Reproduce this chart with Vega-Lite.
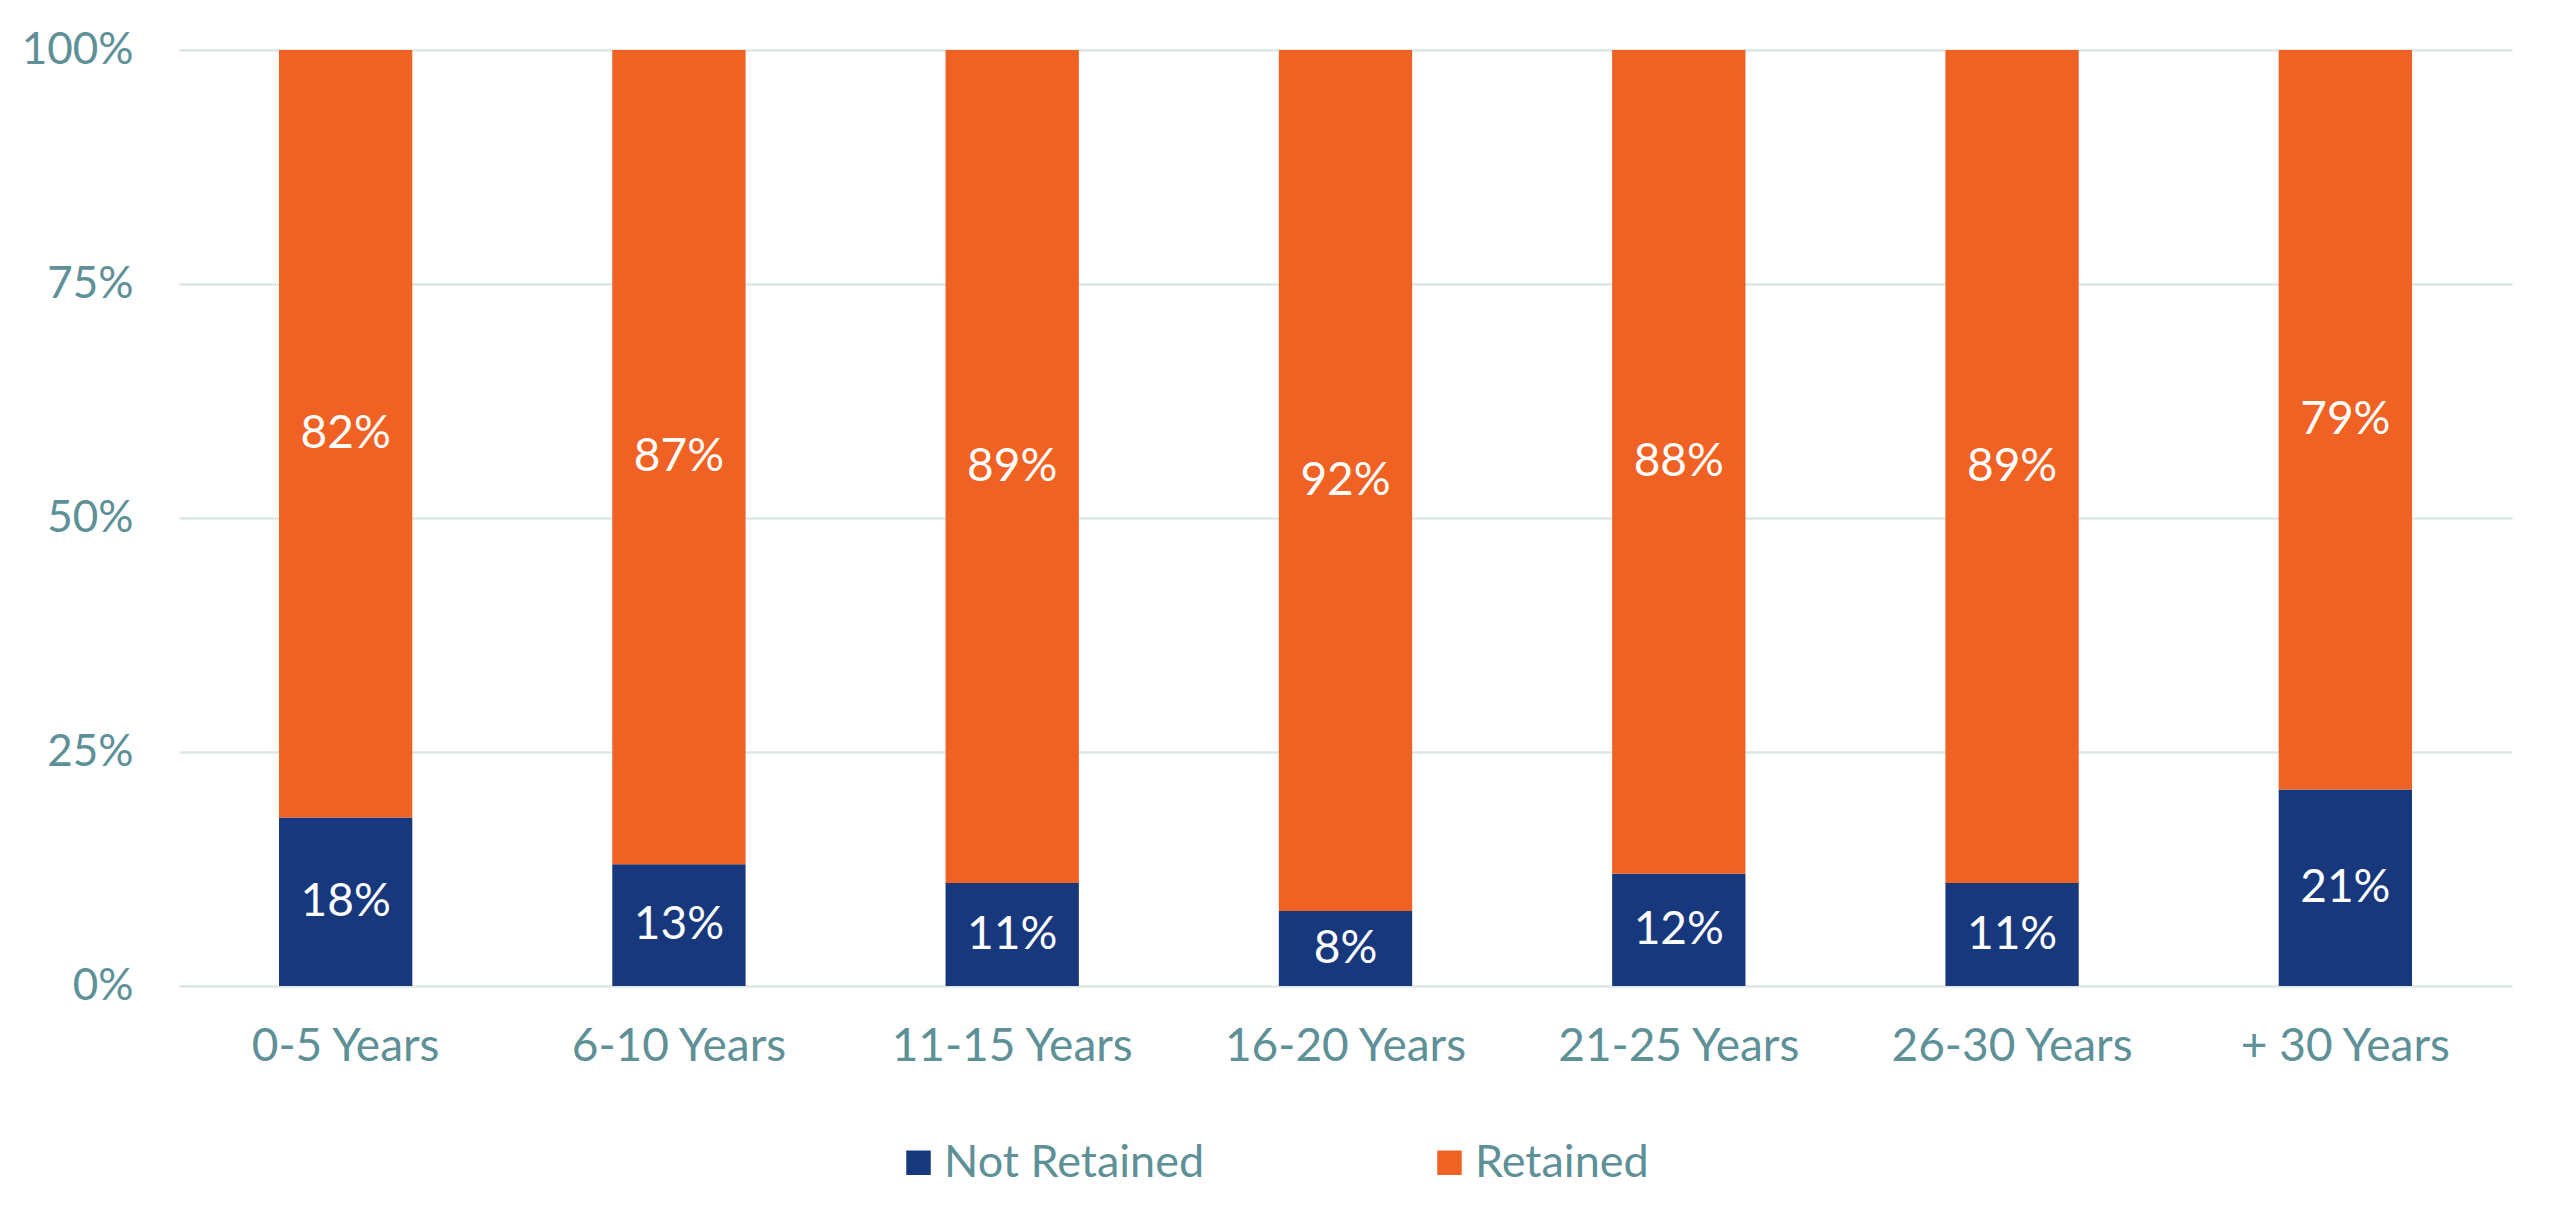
{
  "$schema": "https://vega.github.io/schema/vega-lite/v6.json",
  "width": 2333,
  "height": 936,
  "autosize": {"type": "none"},
  "padding": {"left": 179, "top": 50, "right": 48, "bottom": 226},
  "background": "white",
  "config": {
    "view": {"stroke": null},
    "font": "Lato"
  },
  "data": {
    "values": [
      {"tenure": "0-5 Years", "status": "Not Retained", "value": 18},
      {"tenure": "0-5 Years", "status": "Retained", "value": 82},
      {"tenure": "6-10 Years", "status": "Not Retained", "value": 13},
      {"tenure": "6-10 Years", "status": "Retained", "value": 87},
      {"tenure": "11-15 Years", "status": "Not Retained", "value": 11},
      {"tenure": "11-15 Years", "status": "Retained", "value": 89},
      {"tenure": "16-20 Years", "status": "Not Retained", "value": 8},
      {"tenure": "16-20 Years", "status": "Retained", "value": 92},
      {"tenure": "21-25 Years", "status": "Not Retained", "value": 12},
      {"tenure": "21-25 Years", "status": "Retained", "value": 88},
      {"tenure": "26-30 Years", "status": "Not Retained", "value": 11},
      {"tenure": "26-30 Years", "status": "Retained", "value": 89},
      {"tenure": "+ 30 Years", "status": "Not Retained", "value": 21},
      {"tenure": "+ 30 Years", "status": "Retained", "value": 79}
    ]
  },
  "transform": [
    {"calculate": "datum.status === 'Not Retained' ? 0 : 1", "as": "order"},
    {"stack": "value", "groupby": ["tenure"], "sort": [{"field": "order", "order": "ascending"}], "as": ["v0", "v1"]},
    {"calculate": "(datum.v0 + datum.v1) / 2", "as": "mid"},
    {"calculate": "datum.value + '%'", "as": "label"}
  ],
  "encoding": {
    "x": {
      "field": "tenure",
      "type": "nominal",
      "sort": ["0-5 Years", "6-10 Years", "11-15 Years", "16-20 Years", "21-25 Years", "26-30 Years", "+ 30 Years"],
      "scale": {"paddingInner": 0.6, "paddingOuter": 0.3},
      "axis": {
        "title": null,
        "labelAngle": 0,
        "domain": false,
        "ticks": false,
        "labelFont": "Lato",
        "labelFontSize": 46,
        "labelLimit": 0,
        "labelColor": "#5E9097",
        "labelPadding": 38
      }
    }
  },
  "layer": [
    {
      "mark": {"type": "bar"},
      "encoding": {
        "y": {
          "field": "v0",
          "type": "quantitative",
          "scale": {"domain": [0, 100], "nice": false},
          "axis": {
            "title": null,
            "values": [0, 25, 50, 75, 100],
            "labelExpr": "datum.value + '%'",
            "domain": false,
            "ticks": false,
            "grid": true,
            "gridColor": "#DCE7EA",
            "gridWidth": 2.5,
            "labelFont": "Lato",
            "labelFontSize": 44,
            "labelColor": "#5E9097",
            "labelPadding": 46
          }
        },
        "y2": {"field": "v1"},
        "color": {
          "field": "status",
          "type": "nominal",
          "scale": {"domain": ["Not Retained", "Retained"], "range": ["#18387E", "#F06224"]},
          "legend": {
            "title": null,
            "orient": "none",
            "direction": "horizontal",
            "legendX": 717,
            "legendY": 1090,
            "symbolType": "square",
            "symbolSize": 600,
            "symbolStrokeWidth": 0,
            "labelFont": "Lato",
            "labelFontSize": 45,
            "labelLimit": 0,
            "labelColor": "#5E9097",
            "labelOffset": 3,
            "columnPadding": 222,
            "gridAlign": "all"
          }
        }
      }
    },
    {
      "mark": {"type": "text", "color": "white", "fontSize": 46, "font": "Lato", "baseline": "middle", "align": "center"},
      "encoding": {
        "y": {"field": "mid", "type": "quantitative"},
        "text": {"field": "label", "type": "nominal"},
        "detail": {"field": "status"}
      }
    }
  ]
}
